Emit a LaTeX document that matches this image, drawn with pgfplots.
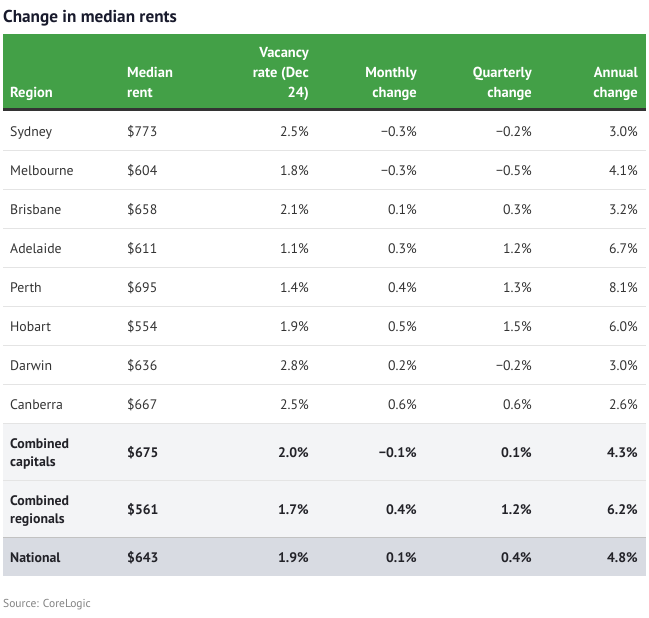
\documentclass[border=0pt]{standalone}
\usepackage{fontspec}
\setmainfont{PT Sans}
\usepackage{pgfplots}
\pgfplotsset{compat=1.18}
\definecolor{hdr}{RGB}{67,160,71}
\definecolor{txt}{RGB}{51,51,51}
\definecolor{txtb}{RGB}{34,34,40}
\definecolor{ttl}{RGB}{24,26,44}
\definecolor{lineg}{RGB}{228,228,228}
\definecolor{bandA}{RGB}{243,244,246}
\definecolor{bandB}{RGB}{216,219,226}
\definecolor{src}{RGB}{130,130,130}
\newcommand\body{\fontsize{13.8}{15}\selectfont}
\newcommand\hfont{\fontsize{14.5}{16}\selectfont\bfseries}
\pgfplotsset{
  txtbase/.style={draw=none, mark=none, point meta=explicit symbolic, nodes near coords={\pgfplotspointmeta}},
  L/.style={txtbase, every node near coord/.style={anchor=base west, inner sep=0pt, font=\body, text=txt}},
  R/.style={txtbase, every node near coord/.style={anchor=base east, inner sep=0pt, font=\body, text=txt}},
  LB/.style={txtbase, every node near coord/.style={anchor=base west, inner sep=0pt, font=\body\bfseries, text=txtb}},
  RB/.style={txtbase, every node near coord/.style={anchor=base east, inner sep=0pt, font=\body\bfseries, text=txtb}},
  HL/.style={txtbase, every node near coord/.style={anchor=base west, inner sep=0pt, font=\hfont, text=white}},
  HR/.style={txtbase, every node near coord/.style={anchor=base east, inner sep=0pt, font=\hfont, text=white}},
}
\begin{document}
\begin{tikzpicture}
\begin{axis}[x=1pt, y=1pt, y dir=reverse, xmin=0, xmax=649, ymin=0, ymax=618,
  hide axis, clip=false, anchor=origin, at={(0,0)}]
% background
\addplot[fill=white, draw=none] coordinates {(0,0) (649,0) (649,618) (0,618)} -- cycle;
% header band
\addplot[fill=hdr, draw=none] coordinates {(3,34) (646,34) (646,109) (3,109)} -- cycle;
\addplot[draw=txt, line width=2.6pt] coordinates {(3,109.5) (646,109.5)};
% grey bands
\addplot[fill=bandA, draw=none] coordinates {(3,423) (646,423) (646,537) (3,537)} -- cycle;
\addplot[fill=bandB, draw=none] coordinates {(3,537) (646,537) (646,576) (3,576)} -- cycle;
% row separators
\addplot[draw=lineg, line width=1pt] coordinates {(3,150.5) (646,150.5)};
\addplot[draw=lineg, line width=1pt] coordinates {(3,189.5) (646,189.5)};
\addplot[draw=lineg, line width=1pt] coordinates {(3,228.5) (646,228.5)};
\addplot[draw=lineg, line width=1pt] coordinates {(3,267.5) (646,267.5)};
\addplot[draw=lineg, line width=1pt] coordinates {(3,306.5) (646,306.5)};
\addplot[draw=lineg, line width=1pt] coordinates {(3,345.5) (646,345.5)};
\addplot[draw=lineg, line width=1pt] coordinates {(3,384.5) (646,384.5)};
\addplot[draw=lineg, line width=1pt] coordinates {(3,423.5) (646,423.5)};
\addplot[draw=lineg, line width=1pt] coordinates {(3,480.5) (646,480.5)};
\addplot[draw=lineg!85!black, line width=1pt] coordinates {(3,537.5) (646,537.5)};
% title
\addplot[txtbase, every node near coord/.style={anchor=base west, inner sep=0pt, font=\fontsize{17.2}{19}\selectfont\bfseries, text=ttl}]
  coordinates {(3,22) [Change in median rents]};
% source
\addplot[txtbase, every node near coord/.style={anchor=base west, inner sep=0pt, font=\fontsize{11.5}{13}\selectfont, text=src}]
  coordinates {(3,607) [Source: CoreLogic]};
% header
\addplot[HL] coordinates {(10,97) [Region] (127,77) [Median] (127,97) [rent]};
\addplot[HR] coordinates {(309,57) [Vacancy] (309,77) [rate (Dec] (309,97) [24)]
  (417,77) [Monthly] (417,97) [change]
  (532,77) [Quarterly] (532,97) [change]
  (638,77) [Annual] (638,97) [change]};
% body: region names
\addplot[L] coordinates {(10,136) [Sydney] (10,175) [Melbourne] (10,214) [Brisbane] (10,253) [Adelaide]
  (10,292) [Perth] (10,331) [Hobart] (10,370) [Darwin] (10,409) [Canberra]};
% median rent
\addplot[L] coordinates {(127,136) [\$773] (127,175) [\$604] (127,214) [\$658] (127,253) [\$611]
  (127,292) [\$695] (127,331) [\$554] (127,370) [\$636] (127,409) [\$667]};
% vacancy
\addplot[R] coordinates {(309,136) [2.5\%] (309,175) [1.8\%] (309,214) [2.1\%] (309,253) [1.1\%]
  (309,292) [1.4\%] (309,331) [1.9\%] (309,370) [2.8\%] (309,409) [2.5\%]};
% monthly
\addplot[R] coordinates {(417,136) [−0.3\%] (417,175) [−0.3\%] (417,214) [0.1\%] (417,253) [0.3\%]
  (417,292) [0.4\%] (417,331) [0.5\%] (417,370) [0.2\%] (417,409) [0.6\%]};
% quarterly
\addplot[R] coordinates {(532,136) [−0.2\%] (532,175) [−0.5\%] (532,214) [0.3\%] (532,253) [1.2\%]
  (532,292) [1.3\%] (532,331) [1.5\%] (532,370) [−0.2\%] (532,409) [0.6\%]};
% annual
\addplot[R] coordinates {(638,136) [3.0\%] (638,175) [4.1\%] (638,214) [3.2\%] (638,253) [6.7\%]
  (638,292) [8.1\%] (638,331) [6.0\%] (638,370) [3.0\%] (638,409) [2.6\%]};
% bold rows
\addplot[LB] coordinates {(10,448) [Combined] (10,466) [capitals] (10,505) [Combined] (10,523) [regionals] (10,562) [National]
  (127,457) [\$675] (127,514) [\$561] (127,562) [\$643]};
\addplot[RB] coordinates {(309,457) [2.0\%] (309,514) [1.7\%] (309,562) [1.9\%]
  (417,457) [−0.1\%] (417,514) [0.4\%] (417,562) [0.1\%]
  (532,457) [0.1\%] (532,514) [1.2\%] (532,562) [0.4\%]
  (638,457) [4.3\%] (638,514) [6.2\%] (638,562) [4.8\%]};
\end{axis}
\end{tikzpicture}
\end{document}
